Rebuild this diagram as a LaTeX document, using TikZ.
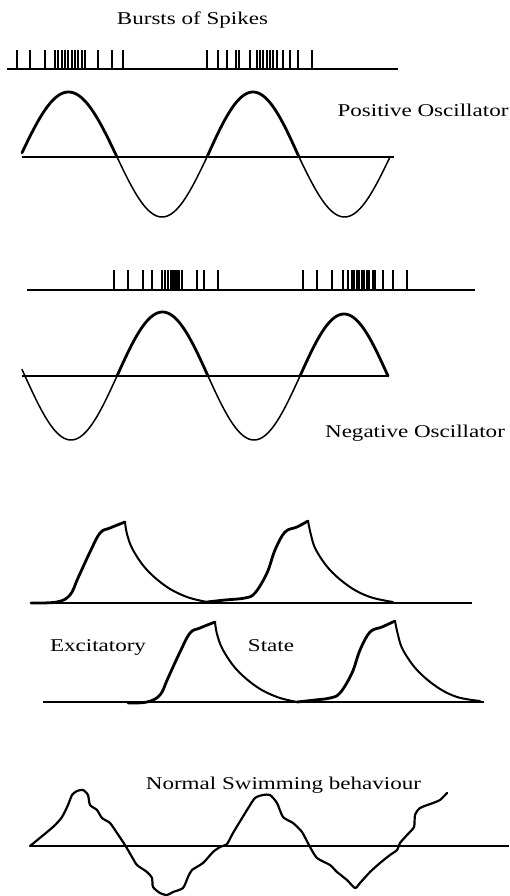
\documentclass[tikz,border=0pt]{standalone}
\usepackage{fontspec}
\setmainfont{Liberation Serif}
\begin{document}
\begin{tikzpicture}[x=1pt,y=-1pt,
  thickline/.style={line width=2.8pt,line cap=round,line join=round},
  thinline/.style={line width=1.5pt,line cap=round,line join=round},
  fallline/.style={line width=2pt,line cap=round,line join=round},
  axisline/.style={line width=1.5pt},
  spike/.style={line width=1.2pt},
  lbl/.style={font=\fontsize{18}{20}\selectfont,anchor=base,inner sep=0pt}]
\useasboundingbox (0,0) rectangle (509,896);
\newcommand{\wide}[1]{\scalebox{1.28}[1]{#1}}

% ---- Bursts of spikes (top)
\node[lbl] (t1) at (192.5,25) {\wide{Bursts of Spikes}};
\coordinate (b1a) at (7,69); \coordinate (b1b) at (398,69);
\draw[axisline] (b1a) -- (b1b);
\foreach \s in {17,30,45,55,58,62,65,68,72,75,78,82,85,98,112,123,
  207,218,227,236,239,250,257,260,263,267,270,273,277,283,290,298,312}
  \draw[spike] (\s,69) -- (\s,50);

% ---- Positive oscillator
\node[lbl] (t2) at (423,117) {\wide{Positive Oscillator}};
\coordinate (p1a) at (22,157); \coordinate (p1b) at (394,157);
\draw[axisline] (p1a) -- (p1b);
\draw[thickline] plot[domain=22:117,samples=50] (\x,{157-65*sin((\x-20)/97*180)});
\draw[thinline] plot[domain=117:207,samples=50] (\x,{157+60*sin((\x-117)/90*180)});
\draw[thickline] plot[domain=207:299,samples=50] (\x,{157-65*sin((\x-207)/92*180)});
\draw[thinline] plot[domain=299:390,samples=50] (\x,{157+60*sin((\x-299)/91*180)});

% ---- Second spike train
\coordinate (b2a) at (27,290); \coordinate (b2b) at (475,290);
\draw[axisline] (b2a) -- (b2b);
\foreach \s in {114,128,143,152,162,165,168,171,173,175,177,179,182,197,204,218,
  303,317,332,343,348,352,354,357,359,362,364,367,369,373,375,383,393,407}
  \draw[spike] (\s,290) -- (\s,270);

% ---- Negative oscillator
\coordinate (n1a) at (22,376); \coordinate (n1b) at (388,376);
\draw[axisline] (n1a) -- (n1b);
\draw[thinline] plot[domain=22:117,samples=50] (\x,{376+64*sin((\x-25)/92*180)});
\draw[thickline] plot[domain=117:208,samples=50] (\x,{376-64*sin((\x-117)/91*180)});
\draw[thinline] plot[domain=208:300,samples=50] (\x,{376+64*sin((\x-208)/92*180)});
\draw[thickline] plot[domain=300:388,samples=50] (\x,{376-62*sin((\x-300)/88*180)});
\node[lbl] (t3) at (415,437) {\wide{Negative Oscillator}};

% ---- Excitatory state, first row (baseline 603)
\coordinate (e1a) at (31,603); \coordinate (e1b) at (472,603);
\draw[axisline] (e1a) -- (e1b);
\draw[thickline] plot[smooth,tension=0.6] coordinates
  {(31,603) (57,602) (70,595) (78,578) (90,552) (100,533) (110,528) (125,522)};
\draw[fallline] plot[smooth,tension=0.6] coordinates
  {(125,522) (127,534) (133,550) (147,570) (167,587) (187,597) (207,602)};
\draw[thickline] plot[smooth,tension=0.6] coordinates
  {(207,602) (225,600) (245,598) (255,593) (267,573) (275,550) (285,532) (297,527) (308,521)};
\draw[fallline] plot[smooth,tension=0.6] coordinates
  {(308,521) (311,535) (316,550) (330,570) (350,587) (370,597) (393,602)};

% ---- Excitatory state, second row (baseline 702)
\coordinate (e2a) at (43,702); \coordinate (e2b) at (484,702);
\draw[axisline] (e2a) -- (e2b);
\draw[thickline] plot[smooth,tension=0.6] coordinates
  {(128,703) (147,702) (160,695) (168,678) (180,652) (190,633) (200,628) (215,622)};
\draw[fallline] plot[smooth,tension=0.6] coordinates
  {(215,622) (217,634) (223,650) (237,670) (257,687) (277,697) (297,702)};
\draw[thickline] plot[smooth,tension=0.6] coordinates
  {(297,702) (315,700) (330,698) (340,693) (352,673) (360,650) (370,632) (382,627) (395,621)};
\draw[fallline] plot[smooth,tension=0.6] coordinates
  {(395,621) (398,635) (403,650) (417,670) (437,687) (457,697) (480,701)};
\node[lbl] (t4) at (98,651) {\wide{Excitatory}};
\node[lbl] (t5) at (271,651) {\wide{State}};

% ---- Normal swimming behaviour
\node[lbl] (t6) at (283.5,789) {\wide{Normal Swimming behaviour}};
\coordinate (s1a) at (30,846); \coordinate (s1b) at (509,846);
\draw[axisline] (s1a) -- (s1b);
\draw[line width=2.2pt,line join=round,line cap=round] plot[smooth,tension=0.4] coordinates {
 (30,846) (53,827) (62,817) (68,805) (72,795) (77,791) (83,790) (88,795) (90,805)
 (97,810) (102,818) (110,823) (117,833) (125,845) (132,857) (137,865) (147,872)
 (152,878) (153,887) (160,893) (167,895) (173,892) (183,888) (188,877) (192,870)
 (203,863) (213,852) (220,847) (227,844) (233,833) (247,810) (255,798) (263,795)
 (270,795) (277,803) (283,817) (293,823) (302,832) (310,847) (317,858) (330,865)
 (337,872) (347,880) (355,888) (360,883) (370,872) (380,863) (390,855) (397,850)
 (400,843) (407,835) (414,827) (415,815) (420,808) (433,803) (440,800) (447,793)};
\end{tikzpicture}
\end{document}
